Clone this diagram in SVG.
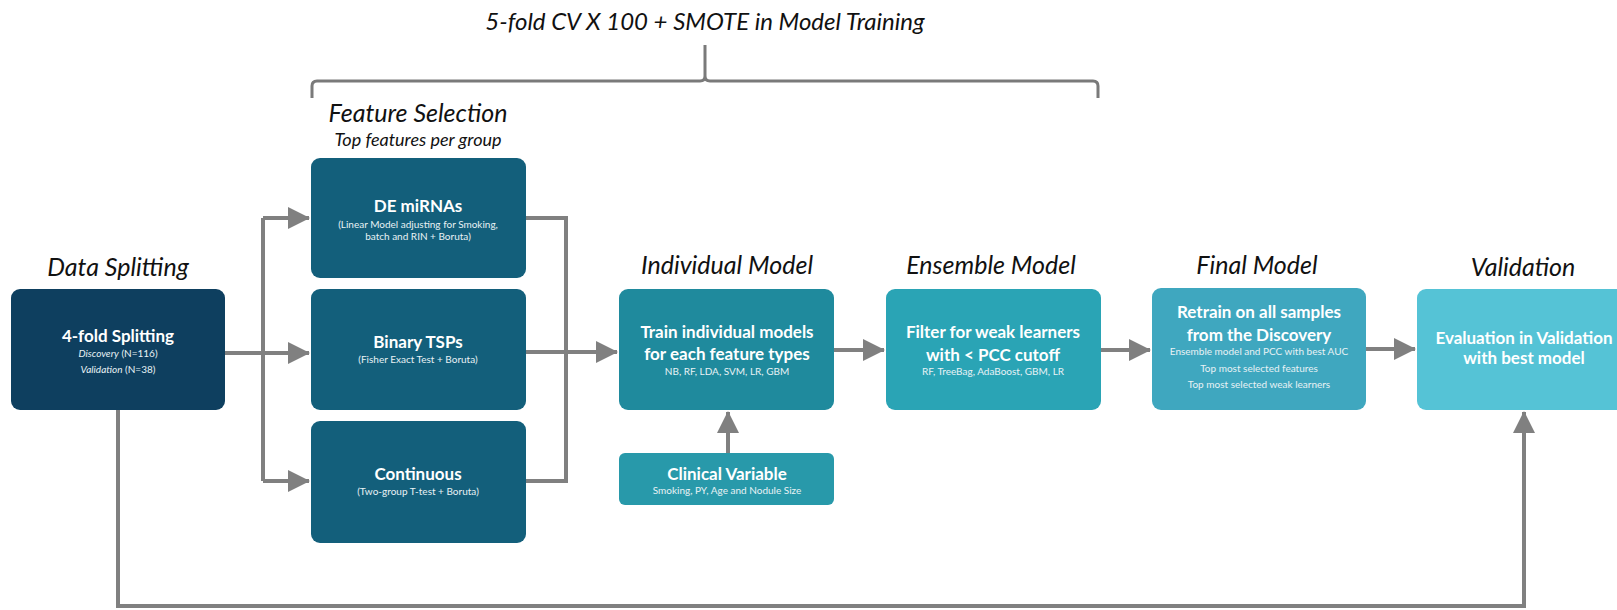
<svg xmlns="http://www.w3.org/2000/svg" width="1617" height="610" viewBox="0 0 1617 610">
  <style>
    .title { font-family: Lato, "Liberation Sans", sans-serif; font-style: italic; font-size: 25px; fill: #111; text-anchor: middle; }
    .cv-title { font-size: 24px; }
    .subtitle { font-family: Lato, "Liberation Sans", sans-serif; font-style: italic; font-size: 18px; fill: #111; text-anchor: middle; }
    .head { font-family: Lato, "Liberation Sans", sans-serif; font-weight: bold; font-size: 17px; fill: #fff; text-anchor: middle; }
    .big { font-family: Lato, "Liberation Sans", sans-serif; font-weight: bold; font-size: 17px; fill: #fff; text-anchor: middle; }
    .small { font-family: Lato, "Liberation Sans", sans-serif; font-size: 10px; fill: #e8f2f5; text-anchor: middle; }
    .conn { fill: none; stroke: #808080; stroke-width: 4; }
    .bracket { fill: none; stroke: #7a7a7a; stroke-width: 3; stroke-linejoin: round; }
  </style>
  <defs>
    <marker id="arrow" markerUnits="userSpaceOnUse" markerWidth="22" markerHeight="22" refX="21" refY="11" orient="auto">
      <path d="M0,0 L22,11 L0,22 z" fill="#808080"/>
    </marker>
  </defs>

  <rect width="1617" height="610" fill="#ffffff"/>

  <!-- cross-validation bracket -->
  <g id="cv-bracket">
    <text class="title cv-title" x="705" y="30">5-fold CV X 100 + SMOTE in Model Training</text>
    <path class="bracket" d="M312,98 L312,86 Q312,81 317,81 L700,81 Q705,81 705,76 L705,45 M705,76 Q705,81 710,81 L1093,81 Q1098,81 1098,86 L1098,98"/>
  </g>

  <!-- section titles -->
  <g id="titles">
    <text class="title" x="118" y="276">Data Splitting</text>
    <text class="title" x="418" y="122">Feature Selection</text>
    <text class="subtitle" x="418" y="146">Top features per group</text>
    <text class="title" x="727" y="274">Individual Model</text>
    <text class="title" x="991" y="274">Ensemble Model</text>
    <text class="title" x="1257" y="274">Final Model</text>
    <text class="title" x="1523" y="276">Validation</text>
  </g>

  <!-- connectors -->
  <g id="connectors">
    <path class="conn" d="M225,353 L309,353" marker-end="url(#arrow)"/>
    <path class="conn" d="M263,218 L263,481"/>
    <path class="conn" d="M263,218 L309,218" marker-end="url(#arrow)"/>
    <path class="conn" d="M263,481 L309,481" marker-end="url(#arrow)"/>
    <path class="conn" d="M526,218 L566,218 L566,481 L526,481"/>
    <path class="conn" d="M526,352 L617,352" marker-end="url(#arrow)"/>
    <path class="conn" d="M834,350 L884,350" marker-end="url(#arrow)"/>
    <path class="conn" d="M1101,350 L1150,350" marker-end="url(#arrow)"/>
    <path class="conn" d="M1366,349 L1415,349" marker-end="url(#arrow)"/>
    <path class="conn" d="M728,453 L728,412" marker-end="url(#arrow)"/>
    <path class="conn" d="M118,410 L118,606 L1524,606 L1524,412" marker-end="url(#arrow)"/>
  </g>

  <g id="data-splitting">
    <rect x="11" y="289" width="214" height="121" rx="9" fill="#0e3f5f"/>
    <text class="head" x="118" y="342">4-fold Splitting</text>
    <text class="small" x="118" y="357"><tspan font-style="italic">Discovery</tspan> (N=116)</text>
    <text class="small" x="118" y="373"><tspan font-style="italic">Validation</tspan> (N=38)</text>
  </g>

  <g id="de-mirnas">
    <rect x="311" y="158" width="215" height="120" rx="9" fill="#135f7b"/>
    <text class="head" x="418" y="212">DE miRNAs</text>
    <text class="small" x="418" y="228">(Linear Model adjusting for Smoking,</text>
    <text class="small" x="418" y="240">batch and RIN + Boruta)</text>
  </g>

  <g id="binary-tsps">
    <rect x="311" y="289" width="215" height="121" rx="9" fill="#135f7b"/>
    <text class="head" x="418" y="348">Binary TSPs</text>
    <text class="small" x="418" y="363">(Fisher Exact Test + Boruta)</text>
  </g>

  <g id="continuous">
    <rect x="311" y="421" width="215" height="122" rx="9" fill="#135f7b"/>
    <text class="head" x="418" y="480">Continuous</text>
    <text class="small" x="418" y="495">(Two-group T-test + Boruta)</text>
  </g>

  <g id="individual-model">
    <rect x="619" y="289" width="215" height="121" rx="9" fill="#1f8a9d"/>
    <text class="big" x="727" y="338">Train individual models</text>
    <text class="big" x="727" y="360">for each feature types</text>
    <text class="small" x="727" y="375">NB, RF, LDA, SVM, LR, GBM</text>
  </g>

  <g id="clinical-variable">
    <rect x="619" y="453" width="215" height="52" rx="6" fill="#2899aa"/>
    <text class="big" x="727" y="480">Clinical Variable</text>
    <text class="small" x="727" y="494">Smoking, PY, Age and Nodule Size</text>
  </g>

  <g id="ensemble-model">
    <rect x="886" y="289" width="215" height="121" rx="9" fill="#2aa4b5"/>
    <text class="big" x="993" y="338">Filter for weak learners</text>
    <text class="big" x="993" y="361">with &lt; PCC cutoff</text>
    <text class="small" x="993" y="375">RF, TreeBag, AdaBoost, GBM, LR</text>
  </g>

  <g id="final-model">
    <rect x="1152" y="288" width="214" height="122" rx="9" fill="#3fa7bf"/>
    <text class="big" x="1259" y="318">Retrain on all samples</text>
    <text class="big" x="1259" y="341">from the Discovery</text>
    <text class="small" x="1259" y="355">Ensemble model and PCC with best AUC</text>
    <text class="small" x="1259" y="372">Top most selected features</text>
    <text class="small" x="1259" y="388">Top most selected weak learners</text>
  </g>

  <g id="validation">
    <rect x="1417" y="289" width="230" height="121" rx="9" fill="#55c3d6"/>
    <text class="big" x="1524" y="344">Evaluation in Validation</text>
    <text class="big" x="1524" y="364">with best model</text>
  </g>
</svg>
